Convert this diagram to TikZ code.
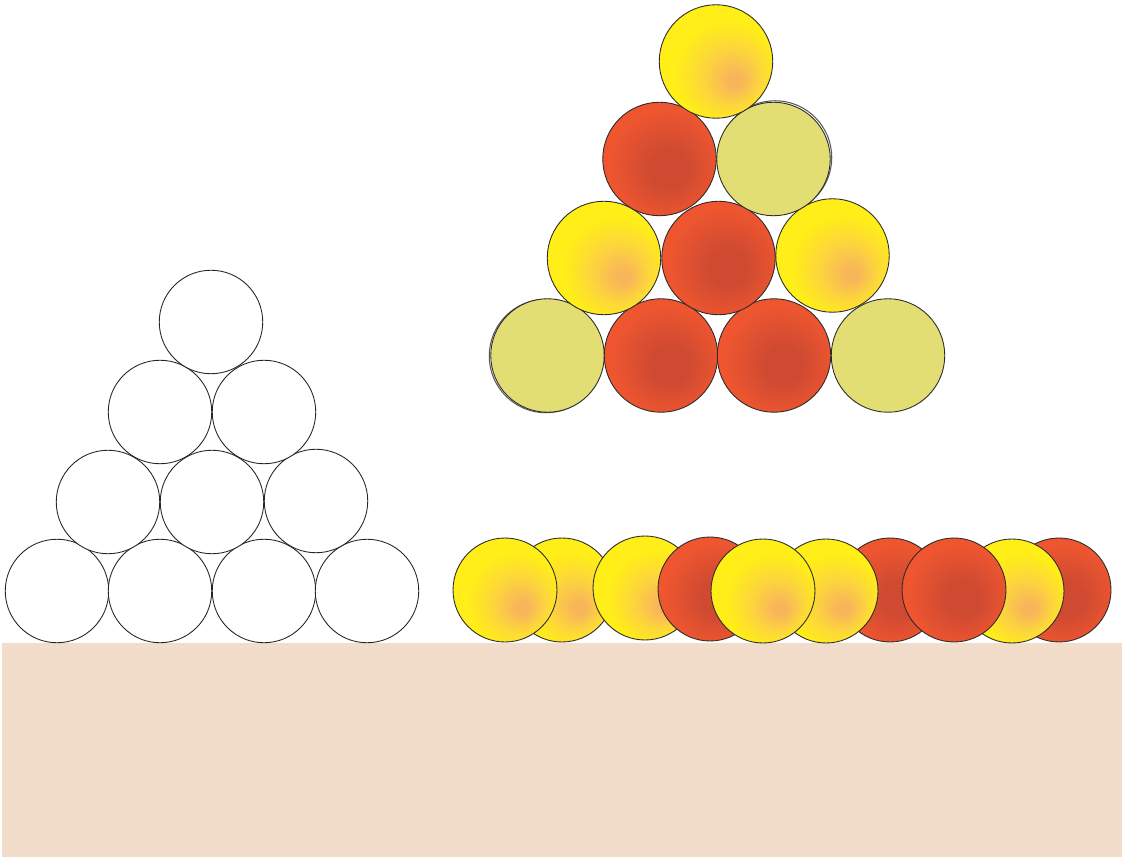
\documentclass[tikz,border=0pt]{standalone}
\usetikzlibrary{shadings}
\definecolor{ground}{HTML}{F1DDC9}
\definecolor{outline}{HTML}{2B2B2B}
\definecolor{olive}{HTML}{E3DE74}
\definecolor{ycore}{HTML}{F8B65A}
\definecolor{ymid}{HTML}{FDD73A}
\definecolor{yedge}{HTML}{FFEE17}
\definecolor{rcore}{HTML}{CF4A31}
\definecolor{redge}{HTML}{EF5630}
\pgfdeclareradialshading{yelshade}{\pgfpoint{9bp}{-9bp}}{color(0bp)=(ycore); color(3bp)=(ycore); color(13bp)=(ymid); color(23bp)=(yedge); color(50bp)=(yedge)}
\pgfdeclareradialshading{redshade}{\pgfpoint{5bp}{-5bp}}{color(0bp)=(rcore); color(8bp)=(rcore); color(25bp)=(redge); color(50bp)=(redge)}

\begin{document}
\begin{tikzpicture}[
  x=0.02cm, y=-0.02cm,
  disc/.style={circle, draw=outline, line width=0.5pt, inner sep=0pt, minimum size=2.08cm},
  bigdisc/.style={disc, minimum size=2.27cm},
  plaindisc/.style={disc, draw=black!85, minimum size=2.07cm, fill=white},
  yeldisc/.style={disc, shade, shading=yelshade},
  reddisc/.style={disc, shade, shading=redshade},
  olivedisc/.style={disc, fill=olive},
  shadowdisc/.style={bigdisc, draw=black!65, line width=0.6pt},
]
\useasboundingbox (0,0) rectangle (1125,857);
\fill[ground] (2,643) rectangle (1122,857);

\node[plaindisc] (w41) at (57,591) {};
\node[plaindisc] (w42) at (160,591) {};
\node[plaindisc] (w43) at (264,591) {};
\node[plaindisc] (w44) at (367,591) {};
\node[plaindisc] (w31) at (108,502) {};
\node[plaindisc] (w32) at (212,502) {};
\node[plaindisc] (w33) at (316,501) {};
\node[plaindisc] (w21) at (160,412) {};
\node[plaindisc] (w22) at (264,412) {};
\node[plaindisc] (w11) at (211,322) {};

\node[shadowdisc] (c41s) at (546,356) {};
\node[olivedisc, bigdisc] (c41) at (547.5,355.5) {};
\node[reddisc, bigdisc] (c42) at (661,355.5) {};
\node[reddisc, bigdisc] (c43) at (774,355.5) {};
\node[olivedisc, bigdisc] (c44) at (888,355.5) {};
\node[yeldisc, bigdisc] (c31) at (604,258) {};
\node[reddisc, bigdisc] (c32) at (718.5,258) {};
\node[yeldisc, bigdisc] (c33) at (832.5,255.5) {};
\node[reddisc, bigdisc] (c21) at (659.5,159) {};
\node[shadowdisc] (c22s) at (775,157.5) {};
\node[olivedisc, bigdisc] (c22) at (773.5,159) {};
\node[yeldisc, bigdisc] (c11) at (716,61.5) {};

\node[yeldisc] (r2) at (562,590) {};
\node[yeldisc] (r1) at (505,590) {};
\node[yeldisc] (r3) at (645,588) {};
\node[reddisc] (r4) at (710,589) {};
\node[reddisc] (r7) at (890,590) {};
\node[yeldisc] (r6) at (826,591) {};
\node[yeldisc] (r5) at (763,591) {};
\node[reddisc] (r10) at (1059,590) {};
\node[yeldisc] (r9) at (1012,591) {};
\node[reddisc] (r8) at (954,590) {};
\end{tikzpicture}
\end{document}
